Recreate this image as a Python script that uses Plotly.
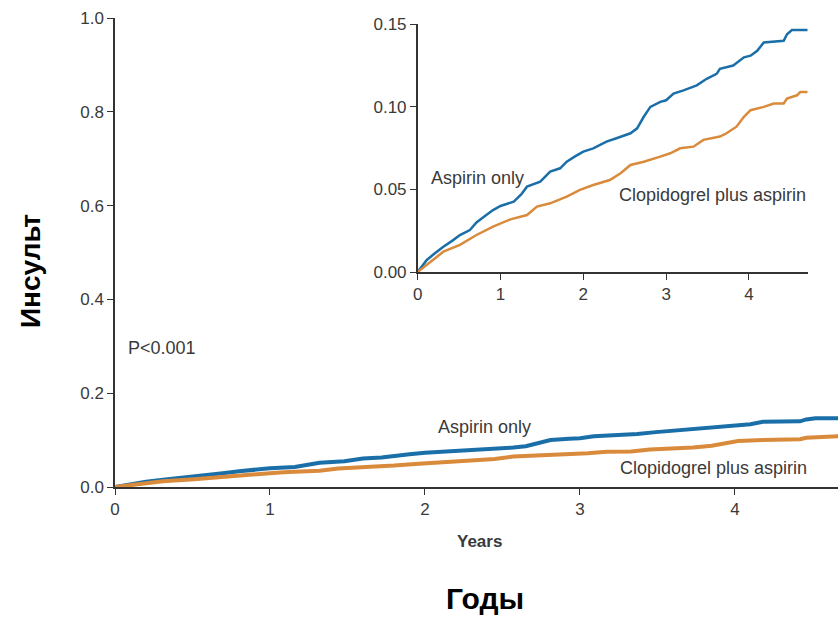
import plotly.graph_objects as go

# Cumulative stroke incidence
asp_years = [0, 0.05, 0.11, 0.2, 0.31, 0.42, 0.51, 0.63, 0.71, 0.8, 0.91, 1.0, 1.16, 1.25, 1.32, 1.48, 1.6, 1.72, 1.8, 1.9, 2.0,
             2.12, 2.28, 2.4, 2.57, 2.65, 2.73, 2.81, 2.93, 3.0, 3.09, 3.21, 3.37, 3.49, 3.61, 3.65, 3.81, 3.94,
             4.02, 4.1, 4.18, 4.42, 4.46, 4.52, 4.71]
asp_vals = [0, 0.003, 0.0073, 0.011, 0.0153, 0.019, 0.0224, 0.0254, 0.030, 0.0335, 0.0375, 0.040, 0.0426, 0.047, 0.0517, 0.0547,
            0.0608, 0.0628, 0.0668, 0.070, 0.0729, 0.0749, 0.079, 0.081, 0.084, 0.087, 0.094, 0.100, 0.103, 0.104,
            0.108, 0.110, 0.113, 0.117, 0.120, 0.123, 0.125, 0.130, 0.131, 0.134, 0.139, 0.140, 0.144, 0.1465, 0.1465]

clo_years = [0, 0.1, 0.2, 0.31, 0.51, 0.71, 0.91, 1.04, 1.12, 1.32, 1.44, 1.6, 1.8, 1.96, 2.12, 2.32, 2.45, 2.57, 2.73,
             2.93, 3.05, 3.17, 3.33, 3.45, 3.65, 3.73, 3.85, 3.94, 4.02, 4.18, 4.3, 4.42, 4.46, 4.58, 4.62, 4.71]
clo_vals = [0, 0.004, 0.008, 0.0123, 0.0164, 0.0224, 0.0275, 0.0305, 0.0319, 0.0345, 0.0396, 0.0416, 0.0456, 0.0497,
            0.0527, 0.0557, 0.0598, 0.0648, 0.0668, 0.0699, 0.0719, 0.0749, 0.0759, 0.080, 0.082, 0.084, 0.088,
            0.094, 0.098, 0.100, 0.102, 0.102, 0.105, 0.107, 0.109, 0.109]

main_yticks = [0, 0.2, 0.4, 0.6, 0.8, 1.0]
inset_yticks = [0, 0.05, 0.10, 0.15]
xticks = [0, 1, 2, 3, 4]

BLUE = "#1b6fa8"
ORANGE = "#d98a3b"
AXC = "#333333"
TXT = "#3a3a3a"
FONT = "Liberation Sans, Arial, sans-serif"

fig = go.Figure()
fig.add_trace(go.Scatter(x=asp_years, y=asp_vals, mode="lines", line=dict(color=BLUE, width=4, shape="linear"),
                         xaxis="x", yaxis="y", showlegend=False))
fig.add_trace(go.Scatter(x=clo_years, y=clo_vals, mode="lines", line=dict(color=ORANGE, width=4, shape="linear"),
                         xaxis="x", yaxis="y", showlegend=False))
fig.add_trace(go.Scatter(x=asp_years, y=asp_vals, mode="lines", line=dict(color=BLUE, width=2.5, shape="linear"),
                         xaxis="x2", yaxis="y2", showlegend=False))
fig.add_trace(go.Scatter(x=clo_years, y=clo_vals, mode="lines", line=dict(color=ORANGE, width=2.5, shape="linear"),
                         xaxis="x2", yaxis="y2", showlegend=False))

W, H = 838, 617
L, R, T, B = 115, 0, 18, 130
pw, ph = W - L - R, H - T - B

def px(x):
    return (x - L) / pw

def py(y):
    return (H - B - y) / ph

axis_common = dict(showline=True, linecolor=AXC, linewidth=1.5, ticks="outside", ticklen=6, tickcolor=AXC,
                   tickwidth=1.2, showgrid=False, zeroline=False, tickfont=dict(family=FONT, size=17, color=TXT))

fig.update_layout(
    width=W, height=H, margin=dict(l=L, r=R, t=T, b=B),
    paper_bgcolor="white", plot_bgcolor="white",
    xaxis=dict(domain=[0, 1], range=[0, 4.665], tickvals=xticks, **axis_common),
    yaxis=dict(domain=[0, 1], range=[0, 1.0], tickvals=main_yticks, tickformat=".1f", **axis_common),
    xaxis2=dict(domain=[px(417.7), px(807.7)], range=[0, 4.71], tickvals=xticks, anchor="y2", **axis_common),
    yaxis2=dict(domain=[py(272), py(24.3)], range=[0, 0.15], tickvals=inset_yticks, tickformat=".2f",
                anchor="x2", **axis_common),
)

ann = [
    dict(text="Aspirin only", x=px(485), y=py(427)),
    dict(text="Clopidogrel plus aspirin", x=px(713), y=py(468)),
    dict(text="Aspirin only", x=px(477), y=py(178)),
    dict(text="Clopidogrel plus aspirin", x=px(712), y=py(195)),
    dict(text="P<0.001", x=px(162), y=py(348)),
]
for a in ann:
    fig.add_annotation(text=a["text"], x=a["x"], y=a["y"], xref="paper", yref="paper", showarrow=False,
                       xanchor="center", yanchor="middle", font=dict(family=FONT, size=18, color=TXT))

fig.add_annotation(text="<b>Years</b>", x=px(479), y=py(541), xref="paper", yref="paper", showarrow=False,
                   xanchor="center", yanchor="middle", font=dict(family=FONT, size=17, color=TXT))
fig.add_annotation(text="<b>Годы</b>", x=px(485), y=py(598), xref="paper", yref="paper", showarrow=False,
                   xanchor="center", yanchor="middle", font=dict(family=FONT, size=30, color="black"))
fig.add_annotation(text="<b>Инсульт</b>", x=px(30), y=py(271), xref="paper", yref="paper", showarrow=False,
                   textangle=-90, xanchor="center", yanchor="middle",
                   font=dict(family=FONT, size=28, color="black"))

fig.write_html("out.html")
